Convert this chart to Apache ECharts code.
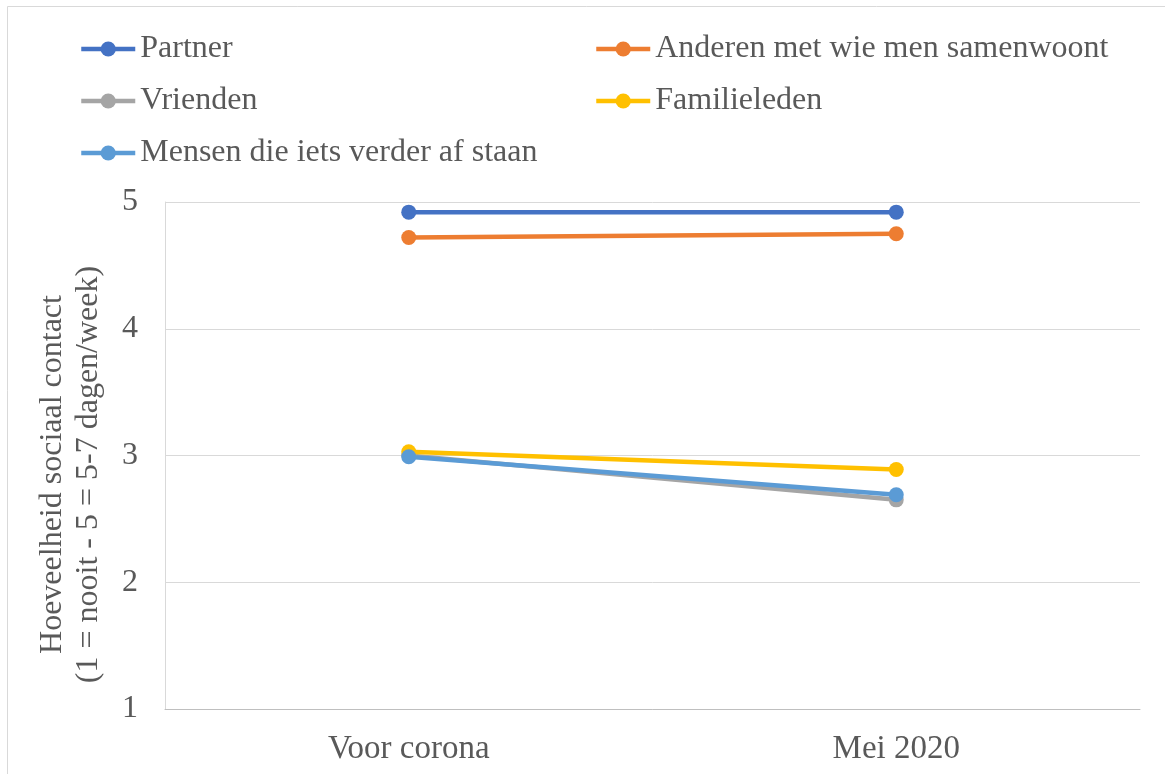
<!DOCTYPE html>
<html>
<head>
<meta charset="utf-8">
<script src="https://cdn.jsdelivr.net/npm/echarts@6/dist/echarts.min.js"></script>
<style>
  html, body { margin: 0; padding: 0; background: #fff; }
  #chart { width: 1165px; height: 774px; }
</style>
</head>
<body>
<div id="chart"></div>
<script>
var categories = ['Voor corona', 'Mei 2020'];
var partner = [4.92, 4.92];
var anderen = [4.72, 4.75];
var vrienden = [3.00, 2.65];
var familieleden = [3.03, 2.89];
var mensen = [2.99, 2.69];
var yTicks = [1, 2, 3, 4, 5];

var font = '"Liberation Serif", "Times New Roman", serif';
var textColor = '#595959';

function line(name, data, color) {
    return {
        name: name,
        type: 'line',
        data: data,
        symbol: 'circle',
        symbolSize: 15,
        lineStyle: { width: 4.5, color: color },
        itemStyle: { color: color },
        animation: false
    };
}

var legendBase = {
    orient: 'vertical',
    top: 28,
    itemWidth: 54,
    itemHeight: 19,
    itemGap: 20,
    lineStyle: { width: 4.5 },
    textStyle: { fontFamily: font, fontSize: 32, color: textColor, padding: [0, 0, 0, 0] }
};

var chart = echarts.init(document.getElementById('chart'));
chart.setOption({
    backgroundColor: '#fff',
    graphic: [{
        type: 'rect',
        shape: { x: 7.5, y: 6.5, width: 1200, height: 800 },
        style: { fill: 'none', stroke: '#d9d9d9', lineWidth: 1 },
        silent: true
    }],
    legend: [
        Object.assign({}, legendBase, { left: 74, data: ['Partner', 'Vrienden', 'Mensen die iets verder af staan'] }),
        Object.assign({}, legendBase, { left: 589, data: ['Anderen met wie men samenwoont', 'Familieleden'] })
    ],
    grid: { left: 165, right: 25, top: 202, bottom: 65 },
    xAxis: {
        type: 'category',
        data: categories,
        boundaryGap: true,
        axisLine: { lineStyle: { color: '#bfbfbf', width: 1 } },
        axisTick: { show: false },
        axisLabel: { fontFamily: font, fontSize: 33, color: textColor, margin: 24 }
    },
    yAxis: {
        type: 'value',
        min: yTicks[0],
        max: yTicks[yTicks.length - 1],
        interval: 1,
        name: 'Hoeveelheid sociaal contact\n(1 = nooit - 5 = 5-7 dagen/week)',
        nameLocation: 'middle',
        nameGap: 58,
        nameTextStyle: { fontFamily: font, fontSize: 32, color: textColor, lineHeight: 36, align: 'center', padding: [0, 38, 0, 0] },
        axisLine: { show: true, lineStyle: { color: '#d9d9d9', width: 1 } },
        axisTick: { show: false },
        splitLine: { lineStyle: { color: '#d9d9d9', width: 1 } },
        axisLabel: { fontFamily: font, fontSize: 32, color: textColor, margin: 27 }
    },
    series: [
        line('Partner', partner, '#4472C4'),
        line('Anderen met wie men samenwoont', anderen, '#ED7D31'),
        line('Vrienden', vrienden, '#A5A5A5'),
        line('Familieleden', familieleden, '#FFC000'),
        line('Mensen die iets verder af staan', mensen, '#5B9BD5')
    ]
});
</script>
</body>
</html>
